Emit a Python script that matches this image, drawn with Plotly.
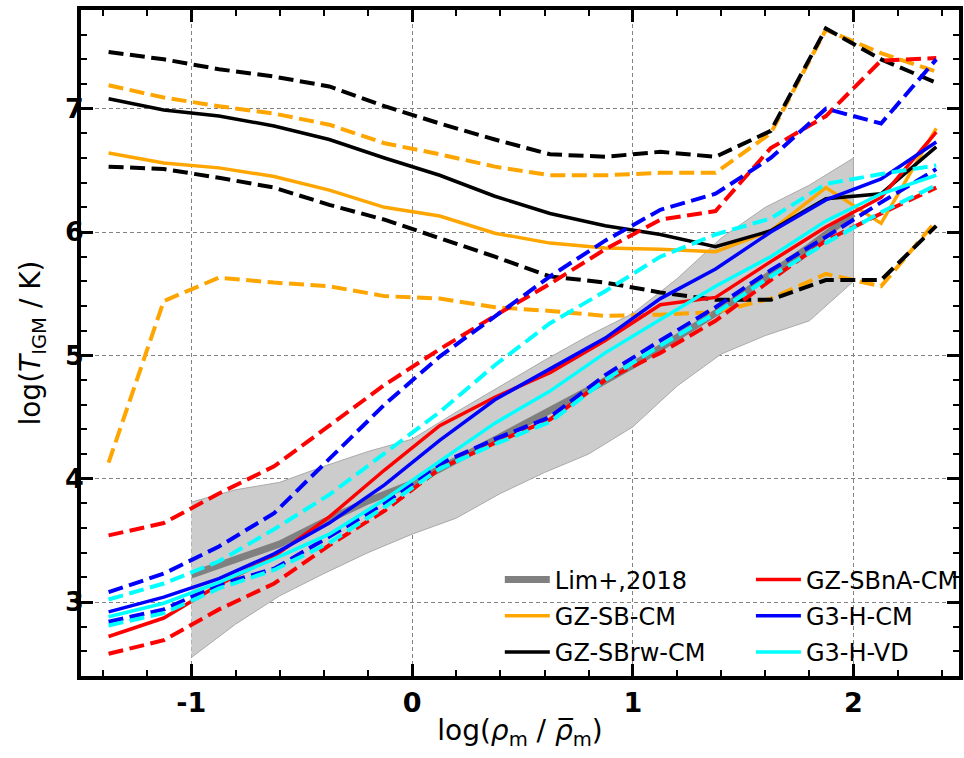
import plotly.graph_objects as go

# ---------------- data ----------------
x_bins = [-1.375, -1.125, -0.875, -0.625, -0.375, -0.125, 0.125, 0.375,
          0.625, 0.875, 1.125, 1.375, 1.625, 1.875, 2.125, 2.375]

sb_med = [6.64, 6.56, 6.52, 6.45, 6.34, 6.20, 6.13, 5.99, 5.91, 5.87, 5.86, 5.84, 6.01, 6.36, 6.07, 6.84]
sb_hi = [7.19, 7.09, 7.02, 6.96, 6.87, 6.72, 6.63, 6.53, 6.46, 6.46, 6.48, 6.48, 6.80, 7.64, 7.45, 7.30]
sb_lo = [4.13, 5.44, 5.63, 5.59, 5.56, 5.48, 5.46, 5.39, 5.36, 5.32, 5.33, 5.35, 5.46, 5.66, 5.56, 6.09]

rw_med = [7.08, 6.99, 6.94, 6.86, 6.75, 6.60, 6.46, 6.29, 6.15, 6.05, 5.98, 5.88, 6.01, 6.27, 6.31, 6.69]
rw_hi = [7.46, 7.40, 7.32, 7.26, 7.18, 7.02, 6.88, 6.75, 6.63, 6.61, 6.65, 6.61, 6.82, 7.65, 7.40, 7.21]
rw_lo = [6.53, 6.51, 6.44, 6.36, 6.22, 6.10, 5.95, 5.80, 5.64, 5.59, 5.51, 5.45, 5.45, 5.61, 5.61, 6.05]

na_med = [2.72, 2.87, 3.14, 3.37, 3.69, 4.07, 4.43, 4.66, 4.86, 5.12, 5.41, 5.47, 5.76, 6.04, 6.28, 6.81]
na_hi = [3.54, 3.64, 3.88, 4.10, 4.43, 4.76, 5.05, 5.32, 5.58, 5.86, 6.10, 6.17, 6.68, 6.94, 7.39, 7.41]
na_lo = [2.58, 2.69, 2.94, 3.15, 3.46, 3.74, 4.08, 4.29, 4.48, 4.80, 5.02, 5.28, 5.61, 5.93, 6.15, 6.36]

hcm_med = [2.92, 3.04, 3.19, 3.39, 3.64, 3.95, 4.31, 4.64, 4.89, 5.14, 5.46, 5.70, 6.00, 6.26, 6.43, 6.73]
hcm_hi = [3.08, 3.23, 3.45, 3.72, 4.16, 4.60, 4.99, 5.32, 5.64, 5.93, 6.18, 6.31, 6.60, 7.00, 6.88, 7.40]
hcm_lo = [2.84, 2.94, 3.14, 3.27, 3.53, 3.80, 4.12, 4.32, 4.50, 4.84, 5.12, 5.39, 5.69, 5.96, 6.24, 6.51]

hvd_med = [2.88, 2.99, 3.16, 3.35, 3.55, 3.83, 4.14, 4.45, 4.71, 5.02, 5.29, 5.56, 5.80, 6.09, 6.31, 6.46]
hvd_hi = [3.02, 3.15, 3.33, 3.59, 3.87, 4.21, 4.54, 4.92, 5.26, 5.52, 5.80, 5.98, 6.11, 6.39, 6.47, 6.54]
hvd_lo = [2.81, 2.91, 3.11, 3.26, 3.48, 3.77, 4.08, 4.28, 4.46, 4.80, 5.08, 5.34, 5.64, 5.91, 6.16, 6.38]

lim_x = [-1.0, -0.8, -0.6, -0.4, -0.2, 0.0, 0.2, 0.4, 0.6, 0.8, 1.0, 1.2, 1.4, 1.6, 1.8, 2.0]
lim_med = [3.22, 3.35, 3.47, 3.65, 3.82, 3.96, 4.15, 4.33, 4.52, 4.72, 4.92, 5.14, 5.37, 5.63, 5.88, 6.15]
lim_hi = [3.81, 3.91, 3.97, 4.10, 4.22, 4.32, 4.54, 4.75, 4.96, 5.16, 5.34, 5.62, 5.95, 6.20, 6.38, 6.60]
lim_lo = [2.55, 2.82, 3.05, 3.23, 3.40, 3.55, 3.68, 3.88, 4.05, 4.20, 4.42, 4.75, 5.01, 5.16, 5.28, 5.60]

x_ticks = [-1, 0, 1, 2]
y_ticks = [3, 4, 5, 6, 7]

# ---------------- figure ----------------
DASH = "15px,6.5px"
fig = go.Figure()

# Lim+ 2018 band
fig.add_trace(go.Scatter(
    x=lim_x + lim_x[::-1], y=lim_hi + lim_lo[::-1],
    fill="toself", fillcolor="rgb(204,204,204)",
    line=dict(color="rgb(170,170,170)", width=1),
    mode="lines", showlegend=False, hoverinfo="skip"))
fig.add_trace(go.Scatter(x=lim_x, y=lim_med, mode="lines",
                         line=dict(color="rgb(128,128,128)", width=7),
                         name="Lim+,2018", legend="legend", legendgroup="lim"))

series = [
    ("GZ-SB-CM", "orange", sb_med, sb_hi, sb_lo, "legend"),
    ("GZ-SBrw-CM", "black", rw_med, rw_hi, rw_lo, "legend"),
    ("GZ-SBnA-CM", "red", na_med, na_hi, na_lo, "legend2"),
    ("G3-H-CM", "blue", hcm_med, hcm_hi, hcm_lo, "legend2"),
    ("G3-H-VD", "cyan", hvd_med, hvd_hi, hvd_lo, "legend2"),
]
for name, col, med, hi, lo, lg in series:
    for arr in (hi, lo):
        fig.add_trace(go.Scatter(x=x_bins, y=arr, mode="lines",
                                 line=dict(color=col, width=4, dash=DASH),
                                 showlegend=False, hoverinfo="skip"))
    fig.add_trace(go.Scatter(x=x_bins, y=med, mode="lines",
                             line=dict(color=col, width=3.5),
                             name=name, legend=lg, legendgroup=name))

axis_common = dict(
    showline=True, linecolor="black", linewidth=3.5, mirror="allticks",
    ticks="inside", ticklen=12, tickwidth=2.5, tickcolor="black",
    showgrid=True, gridcolor="rgb(130,130,130)", gridwidth=1, griddash="4px,3px",
    zeroline=False,
    tickfont=dict(family="DejaVu Sans", size=27, color="black", weight="bold"),
    minor=dict(ticks="inside", ticklen=6, tickwidth=2, tickcolor="black",
               dtick=0.2, showgrid=False),
)
title_font = dict(family="DejaVu Sans", size=28, color="black")

fig.update_xaxes(range=[-1.5, 2.478], tickvals=x_ticks,
                 ticktext=[str(v) for v in x_ticks], ticklabelstandoff=0,
                 title=dict(text="log(<i>ρ</i><sub>m</sub> / <i>ρ\u0305</i><sub>m</sub>)",
                            font=title_font, standoff=4),
                 **axis_common)
fig.update_yaxes(range=[2.4, 7.8], tickvals=y_ticks,
                 ticktext=[str(v) for v in y_ticks], ticklabelstandoff=-12,
                 title=dict(text="log(<i>T</i><sub>IGM</sub> / K)",
                            font=title_font, standoff=17),
                 **axis_common)

legend_common = dict(
    font=dict(family="DejaVu Sans", size=24, color="black"),
    bgcolor="rgba(0,0,0,0)", borderwidth=0, tracegroupgap=2,
    traceorder="grouped", yanchor="top", xanchor="left", itemwidth=45,
)
fig.update_layout(
    width=964, height=758,
    margin=dict(l=81, r=0, t=10, b=82),
    plot_bgcolor="white", paper_bgcolor="white",
    legend=dict(x=0.477, y=0.178, **legend_common),
    legend2=dict(x=0.763, y=0.178, **legend_common),
    font=dict(family="DejaVu Sans"),
)

fig.write_html("out.html")
